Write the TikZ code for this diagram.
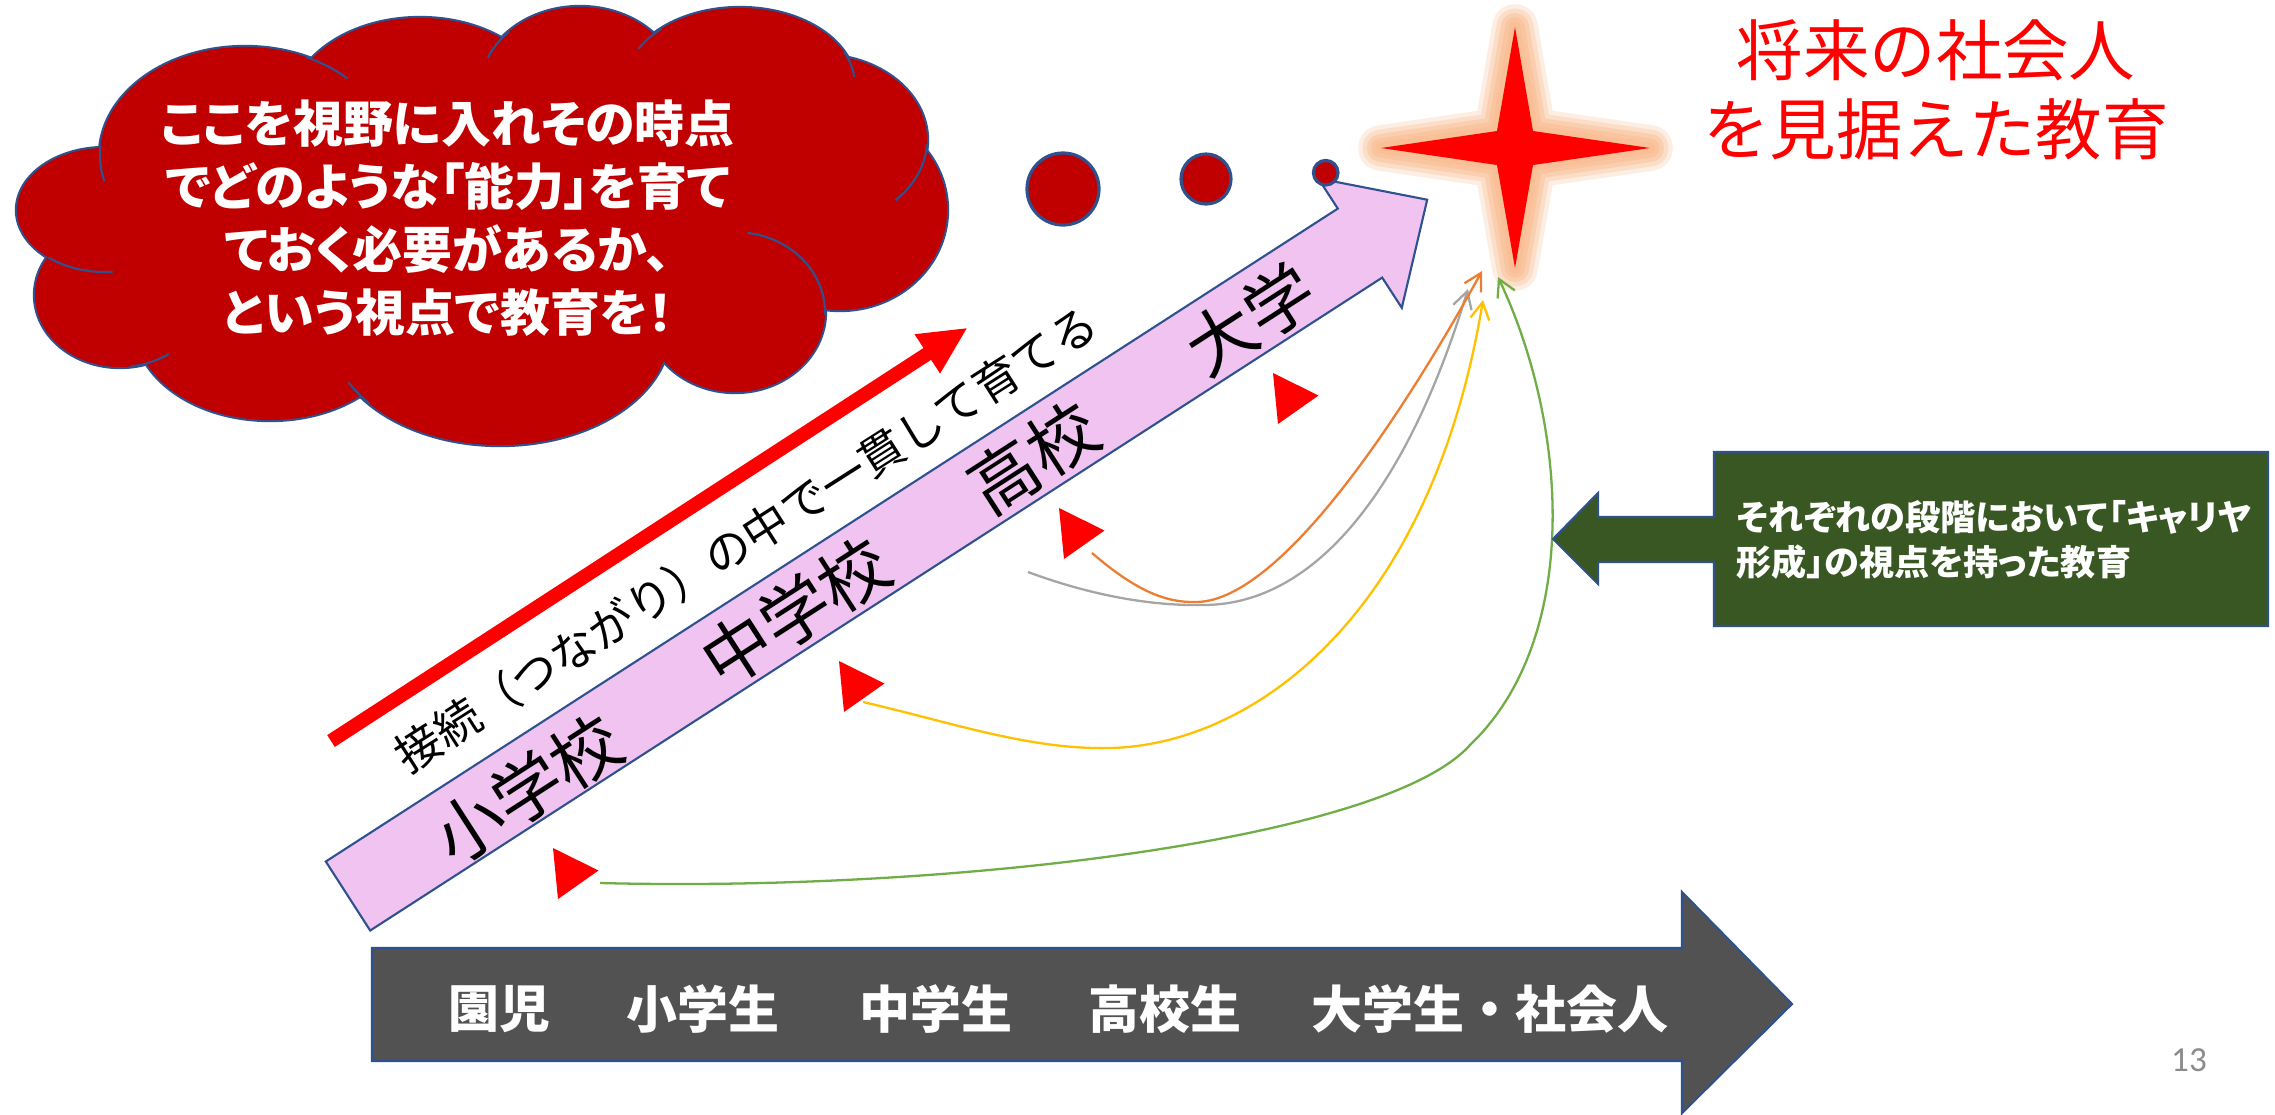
\documentclass[tikz,border=0pt]{standalone}
\usepackage{fontspec}
\setmainfont{Noto Sans CJK JP}
\newfontfamily\jpp{Noto Sans CJK JP}[RawFeature=+palt]
\newfontfamily\numfont{Carlito}
\usetikzlibrary{arrows.meta}
\definecolor{outl}{HTML}{2F528F}
\definecolor{cloudred}{HTML}{C00000}
\definecolor{pinkf}{HTML}{F0C3F0}
\definecolor{gbox}{HTML}{385723}
\definecolor{darkg}{HTML}{525252}
\definecolor{glowc}{RGB}{249,190,148}
\definecolor{corange}{HTML}{ED7D31}
\definecolor{cgray}{HTML}{A5A5A5}
\definecolor{cyellow}{HTML}{FFC000}
\definecolor{cgreen}{HTML}{70AD47}
\definecolor{pgnum}{HTML}{8C8C8C}
\begin{document}
\begin{tikzpicture}[x=0.01cm,y=-0.01cm,
  cloudedge/.style={draw=outl,line width=1.2pt},
  cloudinner/.style={draw=outl,line width=0.6pt},
  shapeline/.style={draw=outl,line width=0.6pt},
  marker/.style={fill=red},
  link/.style={line width=0.65pt,-{Straight Barb[length=4.8pt,width=5.4pt]}},
  lbl/.style={inner sep=0pt, rotate=32.8, font=\fontsize{19.6pt}{22pt}\selectfont},
  stage/.style={inner sep=0pt, text=white, font=\bfseries\fontsize{14.5pt}{17pt}\selectfont},
  dot/.style={fill=cloudred, draw=outl, line width=0.9pt}
]
\useasboundingbox (0,0) rectangle (2275,1114);
\fill[white] (0,0) rectangle (2275,1114);

% ---------- cloud ----------
\foreach \cx/\cy/\rx/\ry in {245/155/1.45/1.08, 420/110/1.30/0.92, 580/90/1.00/0.83,
  740/85/1.15/0.77, 820/140/1.07/0.85, 840/210/1.07/1.00, 735/312/0.90/0.80,
  500/330/1.70/1.15, 270/325/1.35/0.95, 120/295/0.85/0.72, 105/210/0.88/0.62}
  \draw[cloudedge] (\cx,\cy) ellipse[x radius=\rx cm, y radius=\ry cm];
\foreach \cx/\cy/\rx/\ry in {245/155/1.45/1.08, 420/110/1.30/0.92, 580/90/1.00/0.83,
  740/85/1.15/0.77, 820/140/1.07/0.85, 840/210/1.07/1.00, 735/312/0.90/0.80,
  500/330/1.70/1.15, 270/325/1.35/0.95, 120/295/0.85/0.72, 105/210/0.88/0.62,
  480/230/3.80/1.50}
  \fill[cloudred] (\cx,\cy) ellipse[x radius=\rx cm, y radius=\ry cm];
\foreach \cx/\cy/\rx/\ry/\a/\b in {245/155/145/108/-65/-45, 245/155/145/108/166/185,
  580/90/100/83/-157/-135, 740/85/115/77/-152/-133, 740/85/115/77/-25/-6,
  820/140/107/85/3/45, 735/312/90/80/-82/2, 500/330/170/115/140/153,
  120/295/85/72/55/83, 105/210/88/62/85/130}
  \draw[cloudinner] plot[domain=\a:\b, samples=16] ({\cx+\rx*cos(\x)},{\cy+\ry*sin(\x)});
\node[name=cloudtxt, text=white, align=center, inner sep=0pt,
  font=\jpp\bfseries\fontsize{14.2pt}{17.9pt}\selectfont] at (448,218)
  {ここを視野に入れその時点\\でどのような「能力」を育て\\ておく必要があるか、\\という視点で教育を！};

% ---------- red arrow ----------
\fill[red] (327.2,735.1) -- (923.5,348.0) -- (914.5,334.2) -- (966.7,328.3)
  -- (940.1,373.6) -- (931.1,359.8) -- (334.8,746.9) -- cycle;
\node[name=conn, rotate=32.5, inner sep=0pt, font=\fontsize{13pt}{15pt}\selectfont]
  at (746,539) {接続（つながり）の中で一貫して育てる};

% ---------- pink arrow ----------
\draw[fill=pinkf, shapeline] (325.8,861.5) -- (1337.8,208.6) -- (1318.2,178.4)
  -- (1427.2,199.7) -- (1401.8,307.8) -- (1382.2,277.6) -- (370.2,930.5) -- cycle;
\node[lbl, name=l1] at (527,789) {小学校};
\node[lbl, name=l2] at (795,612) {中学校};
\node[lbl, name=l3] at (1033,458) {高校};
\node[lbl, name=l4] at (1250,319) {大学};

% ---------- thought dots ----------
\draw[dot] (1063,189) circle[radius=0.36cm];
\draw[dot] (1206,179) circle[radius=0.25cm];
\draw[dot] (1325.7,172.7) circle[radius=0.123cm];

% ---------- star ----------
\foreach \w/\o in {13/0.25, 10.5/0.35, 8/0.45, 5.5/0.6, 3/0.8}
  \draw[glowc, line width=\w pt, line join=round, draw opacity=\o]
    (1515,27) -- (1533,131) -- (1650,148) -- (1533,165) -- (1515,268)
    -- (1497,165) -- (1381,148) -- (1497,131) -- cycle;
\fill[red] (1515,27) -- (1533,131) -- (1650,148) -- (1533,165) -- (1515,268)
    -- (1497,165) -- (1381,148) -- (1497,131) -- cycle;
\coordinate (star) at (1515,148);

\node[name=title, text=red, align=center, inner sep=0pt,
  font=\fontsize{18.9pt}{22.5pt}\selectfont] at (1936,90) {将来の社会人\\を見据えた教育};

% ---------- curves ----------
\coordinate (os) at (1092,553); \coordinate (oe) at (1482,271);
\coordinate (gs) at (1028,572); \coordinate (ge) at (1468,289);
\coordinate (ys) at (863,702);  \coordinate (ye) at (1483,300);
\coordinate (ns) at (600,883);  \coordinate (ne) at (1498,277);
\draw[link, cgray] (gs) .. controls (1090,595) and (1150,606) .. (1203,605)
  .. controls (1320,605) and (1410,480) .. (ge);
\draw[link, corange] (os) .. controls (1135,590) and (1165,603) .. (1197,602)
  .. controls (1280,600) and (1400,420) .. (oe);
\draw[link, cyellow] (ys) .. controls (950,722) and (1030,750) .. (1110,748)
  .. controls (1250,745) and (1430,620) .. (ye);
\draw[link, cgreen] (ns) .. controls (950,892) and (1385,840) .. (1470,745)
  .. controls (1580,640) and (1570,430) .. (ne);

% ---------- markers ----------
\foreach \px/\py in {1273/373, 1059/508, 839/661, 553/848}
  \fill[marker] (\px,\py) -- ++(45.5,22.5) -- ++(-40.5,28.5) -- cycle;

% ---------- green callout ----------
\draw[fill=gbox, shapeline] (1714,452) -- (2268,452) -- (2268,626) -- (1714,626)
  -- (1714,562) -- (1598,562) -- (1598,584) -- (1553,539) -- (1598,493)
  -- (1598,517) -- (1714,517) -- cycle;
\node[name=gtxt, text=white, align=left, anchor=west, inner sep=0pt,
  font=\jpp\bfseries\fontsize{10pt}{12.8pt}\selectfont] at (1736,540)
  {それぞれの段階において「キャリヤ\\形成」の視点を持った教育};

% ---------- bottom arrow ----------
\draw[fill=darkg, shapeline] (372,948) -- (1682,948) -- (1682,892) -- (1792,1004)
  -- (1682,1113) -- (1682,1061) -- (372,1061) -- cycle;
\node[stage, name=s1] at (499,1009) {園児};
\node[stage, name=s2] at (703,1009) {小学生};
\node[stage, name=s3] at (936,1009) {中学生};
\node[stage, name=s4] at (1165,1009) {高校生};
\node[stage, name=s5] at (1490,1009) {大学生・社会人};

\node[name=pg, text=pgnum, inner sep=0pt, font=\numfont\fontsize{10pt}{12pt}\selectfont]
  at (2189,1060) {13};
\end{tikzpicture}
\end{document}
